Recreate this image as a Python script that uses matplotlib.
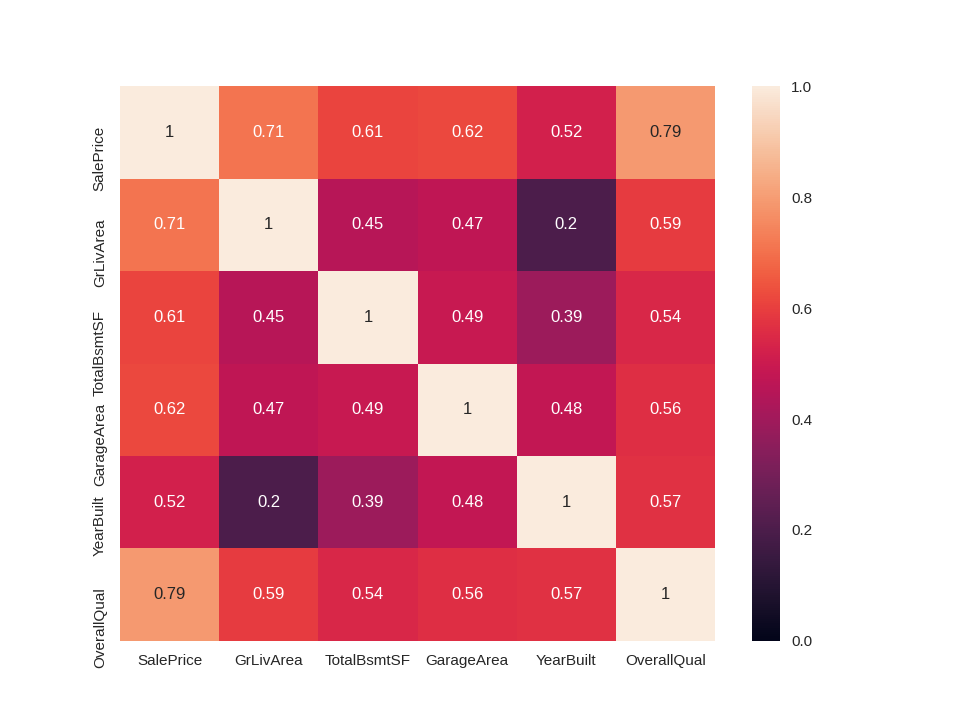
import numpy as np
import matplotlib
matplotlib.use('Agg')
import matplotlib.pyplot as plt
import matplotlib.transforms as mtransforms
import seaborn as sns

cols = ['SalePrice', 'GrLivArea', 'TotalBsmtSF', 'GarageArea', 'YearBuilt', 'OverallQual']
corr = np.array([
    [1.00, 0.71, 0.61, 0.62, 0.52, 0.79],
    [0.71, 1.00, 0.45, 0.47, 0.20, 0.59],
    [0.61, 0.45, 1.00, 0.49, 0.39, 0.54],
    [0.62, 0.47, 0.49, 1.00, 0.48, 0.56],
    [0.52, 0.20, 0.39, 0.48, 1.00, 0.57],
    [0.79, 0.59, 0.54, 0.56, 0.57, 1.00],
])

sns.set()
plt.rcParams['font.family'] = ['Liberation Sans', 'DejaVu Sans']

fig, ax = plt.subplots(figsize=(9.6, 7.2), dpi=100)
sns.heatmap(corr, vmin=0, vmax=1, annot=True, xticklabels=cols, yticklabels=cols, ax=ax)

# labels hang just below their tick, as in older seaborn
ax.set_yticklabels(cols, rotation=90, va='top')
shift = mtransforms.ScaledTranslation(0, 5 / 72, fig.dpi_scale_trans)
for lbl in ax.get_yticklabels():
    lbl.set_transform(lbl.get_transform() + shift)

ax.collections[0].colorbar.ax.tick_params(length=0, pad=8)

fig.savefig('out.png', dpi=100)
